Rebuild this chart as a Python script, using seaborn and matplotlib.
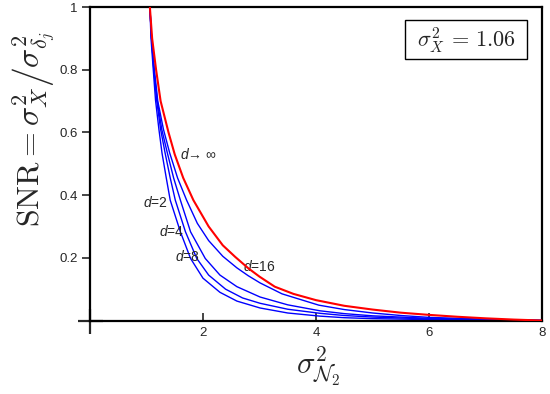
import pandas as pd
import matplotlib
matplotlib.use("Agg")
import matplotlib.pyplot as plt
from matplotlib.patches import Rectangle
import seaborn as sns

# values (x = sigma^2_N2, y = SNR)
x_inf = [1.06, 1.10, 1.17, 1.25, 1.39, 1.50, 1.65, 1.83, 2.10, 2.35, 2.57, 2.80, 3.00, 3.27,
         3.60, 4.00, 4.50, 5.00, 5.50, 6.00, 6.50, 7.00, 7.50, 8.00]
y_inf = [1.00, 0.90, 0.80, 0.70, 0.60, 0.53, 0.455, 0.384, 0.30, 0.24, 0.203, 0.167, 0.14, 0.108,
         0.085, 0.065, 0.047, 0.035, 0.025, 0.018, 0.012, 0.007, 0.003, 0.0]

x_d16 = [1.06, 1.09, 1.14, 1.20, 1.30, 1.41, 1.55, 1.71, 1.90, 2.10, 2.35, 2.60, 2.80, 3.01,
         3.40, 4.05, 4.50, 5.00, 5.50, 6.00, 7.00, 8.00]
y_d16 = [1.00, 0.90, 0.80, 0.70, 0.61, 0.535, 0.455, 0.384, 0.31, 0.255, 0.205, 0.168, 0.143, 0.12,
         0.085, 0.049, 0.035, 0.024, 0.016, 0.010, 0.004, 0.0]

x_d8 = [1.06, 1.09, 1.13, 1.19, 1.27, 1.37, 1.48, 1.60, 1.78, 2.04, 2.30, 2.60, 3.01, 3.50,
        4.07, 4.50, 5.00, 6.00, 7.00, 8.00]
y_d8 = [1.00, 0.90, 0.80, 0.703, 0.61, 0.534, 0.455, 0.384, 0.283, 0.198, 0.145, 0.108, 0.075, 0.05,
        0.031, 0.022, 0.015, 0.007, 0.003, 0.0]

x_d4 = [1.06, 1.09, 1.13, 1.18, 1.25, 1.33, 1.42, 1.51, 1.69, 1.89, 2.10, 2.40, 2.70, 3.01,
        3.50, 4.07, 4.50, 5.00, 6.00, 7.00, 8.00]
y_d4 = [1.00, 0.90, 0.80, 0.703, 0.61, 0.534, 0.455, 0.384, 0.283, 0.198, 0.145, 0.10, 0.072, 0.055,
        0.036, 0.023, 0.016, 0.011, 0.005, 0.002, 0.0]

x_d2 = [1.06, 1.08, 1.12, 1.16, 1.22, 1.275, 1.35, 1.42, 1.60, 1.78, 2.00, 2.30, 2.60, 3.01,
        3.50, 4.07, 4.50, 5.00, 6.00, 7.00, 8.00]
y_d2 = [1.00, 0.90, 0.80, 0.703, 0.61, 0.534, 0.455, 0.384, 0.283, 0.198, 0.135, 0.09, 0.062, 0.04,
        0.024, 0.014, 0.009, 0.006, 0.003, 0.001, 0.0]

x_ticks = [2, 4, 6, 8]
y_ticks = [0.2, 0.4, 0.6, 0.8, 1]
y_ticklabels = ["0.2", "0.4", "0.6", "0.8", "1"]

frames = []
for name, xs, ys in [("d2", x_d2, y_d2), ("d4", x_d4, y_d4), ("d8", x_d8, y_d8),
                     ("d16", x_d16, y_d16), ("inf", x_inf, y_inf)]:
    frames.append(pd.DataFrame({"noise": xs, "snr": ys, "curve": name}))
df = pd.concat(frames, ignore_index=True)

sns.set_style("white")
plt.rcParams["font.family"] = ["Liberation Sans", "DejaVu Sans"]
plt.rcParams["mathtext.fontset"] = "cm"
plt.rcParams["mathtext.it"] = "Liberation Sans:italic"
plt.rcParams["mathtext.rm"] = "Liberation Sans"

fig = plt.figure(figsize=(5.5, 3.94), dpi=100)
ax = fig.add_axes([0.1636, 0.1865, 0.8219, 0.7955])

palette = {"d2": "#0000ff", "d4": "#0000ff", "d8": "#0000ff", "d16": "#0000ff", "inf": "#ff0000"}
sizes = {"d2": 1.0, "d4": 1.0, "d8": 1.0, "d16": 1.0, "inf": 1.5}
sns.lineplot(data=df, x="noise", y="snr", hue="curve", palette=palette,
             size="curve", sizes=sizes, legend=False, ax=ax, estimator=None)
ax.lines[-1].set_zorder(5)

ax.set_xlim(0, 8)
ax.set_ylim(0, 1)
ax.set_xticks(x_ticks)
ax.set_xticklabels([str(t) for t in x_ticks])
ax.set_yticks(y_ticks)
ax.set_yticklabels(y_ticklabels)
ax.set_xticks([0], minor=True)
ax.set_yticks([0], minor=True)
ax.tick_params(axis="x", which="major", direction="in", length=6, width=1.2,
               labelsize=9.5, pad=5, bottom=True)
ax.tick_params(axis="y", which="major", direction="out", length=6, width=1.2,
               labelsize=9.5, pad=3, left=True)
ax.tick_params(which="minor", direction="inout", length=18, width=1.6, bottom=True, left=True)

for s in ax.spines.values():
    s.set_linewidth(1.6)
    s.set_color("black")

ax.set_xlabel(r"$\sigma^2_{\mathcal{N}_2}$", fontsize=22, math_fontfamily="cm")
ax.xaxis.set_label_coords(0.505, -0.075, transform=ax.transAxes)
ax.xaxis.label.set_va("top")
ax.set_ylabel(r"$\mathrm{SNR} = \sigma^2_X\left/\sigma^2_{\delta_j}\right.$",
              fontsize=23, math_fontfamily="cm")
ax.yaxis.set_label_coords(-0.125, 0.61, transform=ax.transAxes)
ax.yaxis.label.set_va("center")

# boxed annotation in the upper right corner
ax.add_patch(Rectangle((0.697, 0.834), 0.27, 0.1245, transform=ax.transAxes,
                       facecolor="white", edgecolor="black", linewidth=1.0, zorder=6))
ax.text(0.832, 0.894, r"$\sigma^2_X\,=\,1.06$", transform=ax.transAxes, fontsize=16,
        math_fontfamily="cm", ha="center", va="center", zorder=7)

lab_kw = dict(fontsize=10, math_fontfamily="custom", ha="left", va="center")
ax.text(1.59, 0.53, r"$d$→ ∞", **lab_kw)
ax.text(0.93, 0.376, r"$d$=2", **lab_kw)
ax.text(1.23, 0.283, r"$d$=4", **lab_kw)
ax.text(1.50, 0.204, r"$d$=8", **lab_kw)
ax.text(2.71, 0.172, r"$d$=16", **lab_kw)

fig.savefig("out.png", dpi=100)
